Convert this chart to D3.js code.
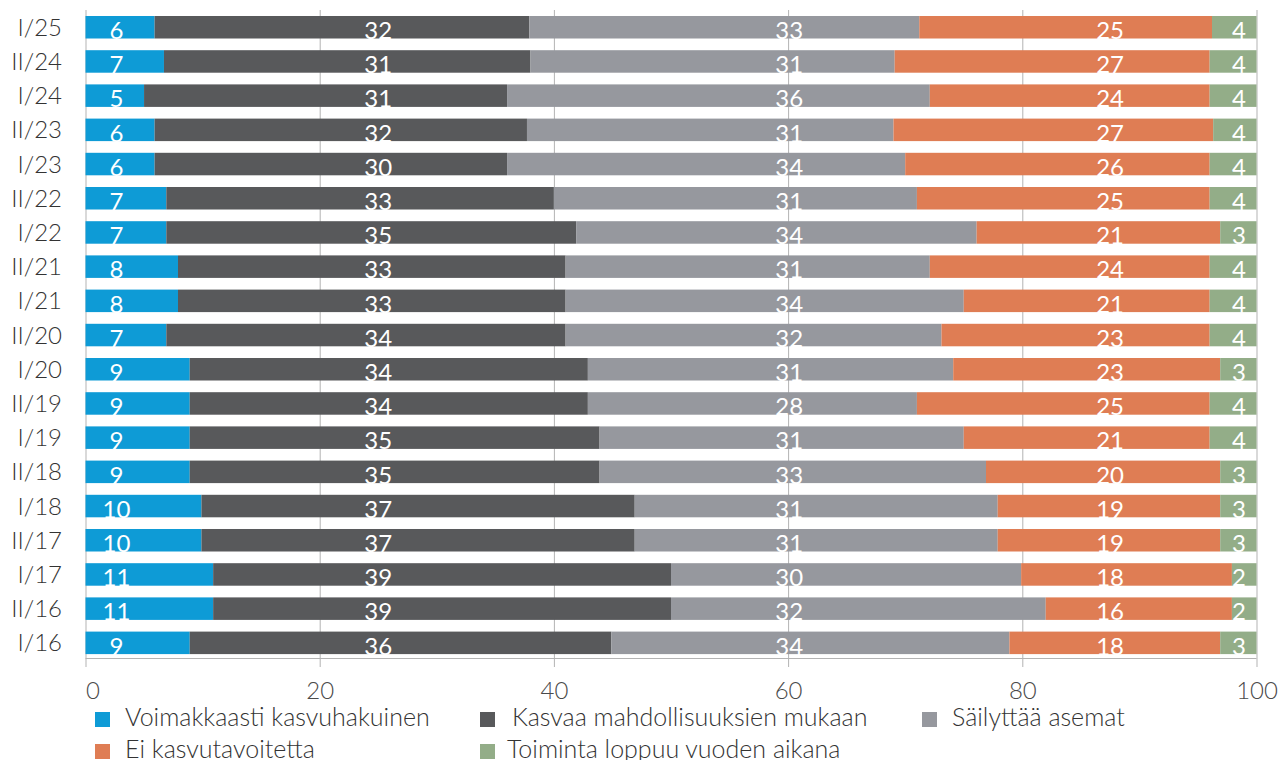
<!DOCTYPE html>
<html>
<head>
<meta charset="utf-8">
<script src="https://cdn.jsdelivr.net/npm/d3@7"></script>
<style>
  body { margin: 0; background: #fff; }
  text { font-family: Lato, "Open Sans", sans-serif; }
</style>
</head>
<body>
<svg id="chart" width="1288" height="760"></svg>
<script>
// rows top -> bottom
var periods = ["I/25","II/24","I/24","II/23","I/23","II/22","I/22","II/21","I/21","II/20",
               "I/20","II/19","I/19","II/18","I/18","II/17","I/17","II/16","I/16"];
var seriesNames = ["Voimakkaasti kasvuhakuinen","Kasvaa mahdollisuuksien mukaan","Säilyttää asemat",
                   "Ei kasvutavoitetta","Toiminta loppuu vuoden aikana"];
var strong  = [5.9, 6.7, 5.0, 5.9, 5.9, 6.9, 6.9, 7.9, 7.9, 6.9, 8.9, 8.9, 8.9, 8.9, 9.9, 9.9, 10.9, 10.9, 8.9];
var grows   = [32.0,31.3,31.0,31.8,30.1,33.1,35.0,33.1,33.1,34.1,34.0,34.0,35.0,35.0,37.0,37.0,39.1,39.1,36.0];
var keeps   = [33.3,31.1,36.1,31.3,34.0,31.0,34.2,31.1,34.0,32.1,31.2,28.1,31.1,33.0,31.0,31.0,29.9,32.0,34.0];
var noGrow  = [25.0,26.9,23.9,27.3,26.0,25.0,20.8,23.9,21.0,22.9,22.8,25.0,21.0,20.0,19.0,19.0,18.0,15.9,18.0];
var ending  = [3.8, 4.0, 4.0, 3.7, 4.0, 4.0, 3.1, 4.0, 4.0, 4.0, 3.1, 4.0, 4.0, 3.1, 3.1, 3.1, 2.1, 2.1, 3.1];
var xTicks = [0, 20, 40, 60, 80, 100];

var colors = ["#0e9bd6", "#58595b", "#96989e", "#df7d54", "#93ad88"];
// labels sit in fixed columns (axis units)
var labelAt = [2.65, 25.0, 60.1, 87.5, 98.5];

var svg = d3.select("#chart");
var series = [strong, grows, keeps, noGrow, ending];
var rows = periods.map(function(p, i){
    var r = {period: p};
    seriesNames.forEach(function(s, k){ r[s] = series[k][i]; });
    return r;
});
var stacked = d3.stack().keys(seriesNames)(rows);

var scX = d3.scaleLinear().domain([0, 100]).range([85.5, 1256.5]);
var scY = d3.scaleBand().domain(periods).range([16, 654.1]).paddingInner(0.342).paddingOuter(0);

// grid + ticks
var xAxis = svg.append("g")
    .attr("transform", "translate(0,667)")
    .call(d3.axisBottom(scX).tickValues(xTicks).tickSize(-657).tickPadding(15));
xAxis.select(".domain").remove();
xAxis.selectAll(".tick line").attr("stroke", "#b3b3b3");
xAxis.selectAll(".tick text")
    .attr("fill", "#4a4a4a")
    .style("font-size", "24px")
    .style("font-weight", 300)
    .attr("text-anchor", function(d){ return d === 0 ? "start" : "middle"; });

svg.append("line")
    .attr("x1", scX(0)).attr("x2", scX(100))
    .attr("y1", 658.5).attr("y2", 658.5)
    .attr("stroke", "#b3b3b3");

// bars
var layers = svg.selectAll("g.layer")
    .data(stacked).enter().append("g")
    .attr("class", "layer")
    .attr("fill", function(d, i){ return colors[i]; });

layers.selectAll("rect")
    .data(function(d){ return d; }).enter().append("rect")
    .attr("x", function(d){ return scX(d[0]); })
    .attr("y", function(d){ return scY(d.data.period); })
    .attr("width", function(d){ return scX(d[1]) - scX(d[0]); })
    .attr("height", scY.bandwidth());

layers.each(function(layer, k){
    d3.select(this).selectAll("text")
        .data(layer).enter().append("text")
        .attr("x", scX(labelAt[k]))
        .attr("y", function(d){ return scY(d.data.period) + scY.bandwidth() + 0.5; })
        .attr("text-anchor", "middle")
        .attr("fill", "#fff")
        .style("font-size", "24px")
        .style("font-weight", 400)
        .text(function(d){ return Math.round(d[1] - d[0]); });
});

// row labels
svg.selectAll("text.row")
    .data(periods).enter().append("text")
    .attr("class", "row")
    .attr("x", 62)
    .attr("y", function(d){ return scY(d) + scY.bandwidth() / 2; })
    .attr("dy", "0.36em")
    .attr("text-anchor", "end")
    .attr("fill", "#333")
    .style("font-size", "24px")
    .style("font-weight", 300)
    .text(function(d){ return d; });

// legend
var legPos = [[95, 712], [480, 712], [922, 712], [95, 744], [480, 744]];
var leg = svg.selectAll("g.leg")
    .data(seriesNames).enter().append("g")
    .attr("class", "leg")
    .attr("transform", function(d, i){ return "translate(" + legPos[i][0] + "," + legPos[i][1] + ")"; });
leg.append("rect")
    .attr("width", 15).attr("height", 15)
    .attr("fill", function(d, i){ return colors[i]; });
leg.append("text")
    .attr("x", function(d, i){ return i === 1 ? 32 : (i === 4 ? 27 : 30); })
    .attr("y", 14)
    .attr("fill", "#333")
    .style("font-size", "25px")
    .style("font-weight", 300)
    .text(function(d){ return d; });
</script>
</body>
</html>
